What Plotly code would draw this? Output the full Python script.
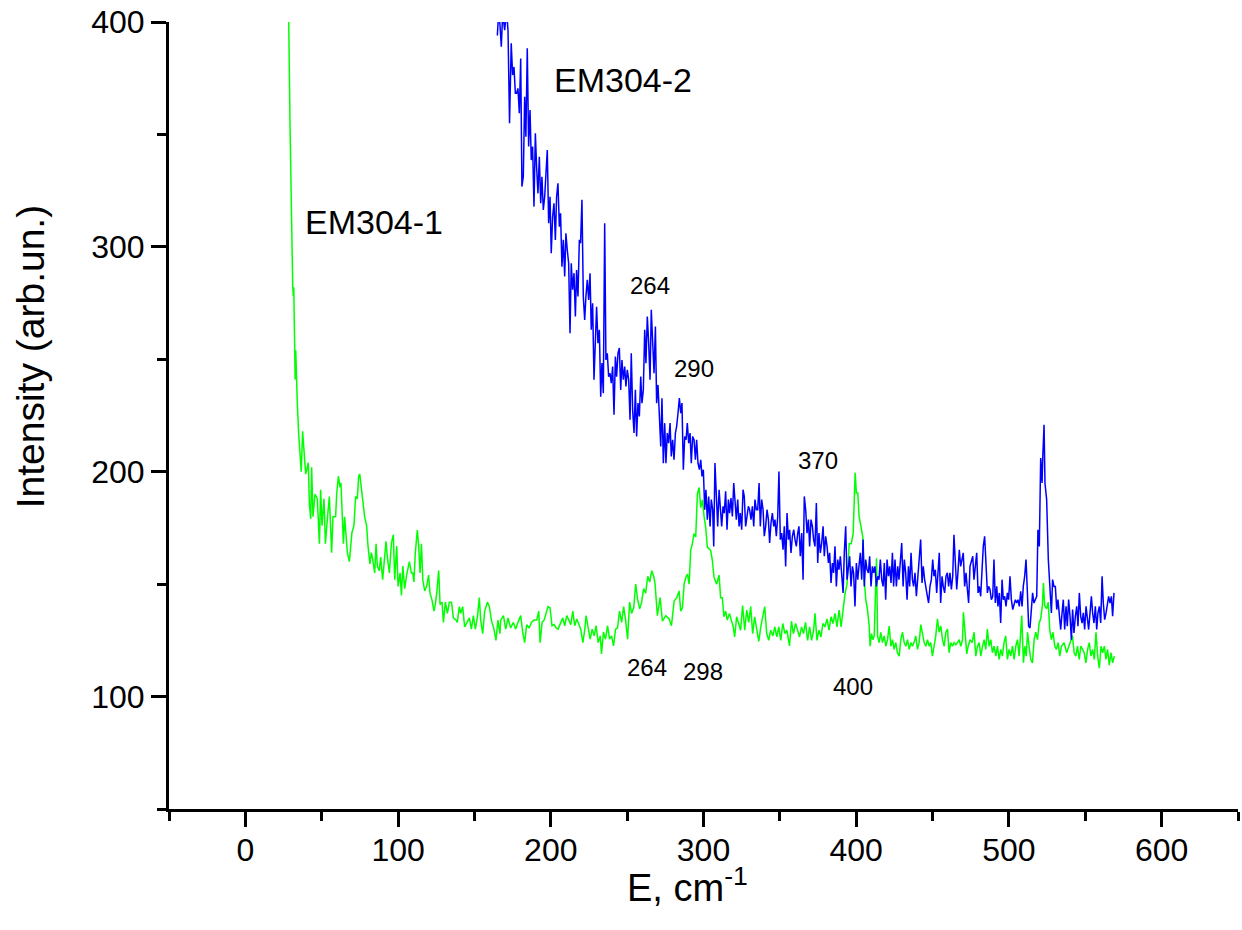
import plotly.graph_objects as go

# ---------------- data ----------------
em1_x = [28.0, 28.4, 29.3, 30.1, 31.0, 31.4, 31.7, 32.3, 32.6, 33.0, 33.4, 34.0, 34.9,
         36.6, 37.5, 39.5, 41.2, 41.9, 42.8, 43.4, 44.3, 45.6, 47.1, 48.5, 49.3, 50.2, 51.5,
         52.4, 53.7, 55.0, 56.5, 57.4, 59.1, 59.8, 60.9, 62.0, 62.6, 64.2, 65.0, 66.8, 68.1,
         69.8, 71.1, 72.2, 73.3, 74.2, 74.9, 76.0, 76.9, 78.1, 79.4, 80.3, 81.6, 82.5, 83.4,
         84.7, 85.6, 86.4, 87.7, 88.6, 89.9, 90.8, 92.1, 93.0, 94.3, 95.6, 96.9, 97.8, 99.1,
         100.0, 101.3, 102.2, 103.1, 104.3, 105.6, 107.4, 108.7, 109.6, 110.4, 111.3, 112.6,
         113.5, 114.4, 115.3, 116.2, 117.4, 118.7, 120.0, 120.9, 122.2, 123.5, 124.4, 125.3,
         126.6, 127.5, 128.8, 129.7, 131.0, 132.3, 133.6, 135.0, 136.2, 138.0, 138.8, 140.1,
         141.0, 142.3, 143.6, 144.9, 146.7, 148.0, 149.3, 150.6, 151.9, 153.2, 154.1, 155.4,
         156.7, 158.5, 159.8, 161.1, 162.8, 164.1, 165.4, 166.7,
         167.2, 169.0, 170.5, 172.0, 173.7, 175.5, 177.0, 178.5, 180.3, 181.6, 182.9, 184.2,
         185.8, 187.3, 189.0, 190.8, 192.1, 193.0, 194.3, 195.6, 196.9, 198.2, 199.5, 200.8,
         202.2, 203.5, 204.8, 206.5, 207.8, 209.1, 210.5, 211.8, 213.1, 214.4, 215.7, 217.0,
         218.3, 219.6, 221.0, 222.3, 223.1, 224.5, 225.8, 227.1, 228.4, 229.7, 231.0, 232.4,
         233.2, 234.5, 235.8, 237.2, 238.5, 239.8, 241.1, 242.4, 243.7, 245.0, 246.4, 247.7,
         249.0, 250.3, 251.6, 252.9, 254.3, 255.6, 256.9, 258.2, 259.5, 260.8, 262.1, 263.5,
         264.8, 266.1, 267.4, 268.3,
         268.7, 269.8, 271.6, 273.1, 275.3, 277.5, 279.0, 280.8, 282.5, 284.0, 285.1, 286.2,
         287.3, 288.4, 289.5, 290.6, 291.6, 292.7, 293.8, 294.9, 296.0, 297.1, 298.2, 299.3,
         300.4, 301.4, 302.5, 304.7, 305.8, 306.9, 308.6, 310.2, 311.2, 312.3, 313.4, 314.5,
         315.6, 317.0, 318.2, 319.5, 320.4, 321.7, 323.0, 324.3, 325.6, 327.0, 328.3, 329.6,
         330.9, 332.2, 333.5, 334.8, 336.2, 337.5, 338.8, 340.1, 341.4, 342.7, 344.0, 345.4,
         346.7, 348.0, 349.3, 350.6, 351.9, 353.3, 354.6, 356.3, 357.6, 358.9, 360.3, 361.6,
         362.9, 364.2, 365.5, 366.8, 368.2, 369.5, 370.8, 372.1, 373.0, 374.3, 375.6, 376.9,
         378.2, 379.5, 380.9, 382.2, 383.5, 384.8, 386.1, 387.4, 388.8, 390.1, 391.4, 392.7,
         394.0, 395.4, 396.7, 398.0, 399.3, 400.1, 401.0, 401.9,
         403.0, 404.3, 405.2, 406.3, 407.4, 408.5, 409.1, 410.0, 410.9, 411.8, 412.6, 413.3,
         414.0, 415.0, 416.1, 417.2, 418.3, 419.4, 420.5, 421.6, 422.7, 423.8, 424.8, 425.9,
         427.0, 428.1, 429.2, 430.3, 431.4, 432.5, 433.6, 434.7, 435.8, 436.8, 437.9, 439.0,
         440.1, 441.2, 442.3, 443.4, 444.5, 445.6, 446.7, 447.8, 448.8, 449.9, 451.0, 452.1,
         453.2, 454.3, 455.4, 456.5, 457.6, 458.7, 459.8, 460.8, 461.9, 463.0, 464.1, 465.2,
         466.3, 467.4, 468.5, 469.6, 470.2, 471.1, 472.4, 473.3, 474.6, 475.9, 477.2, 478.3,
         479.4, 480.5, 481.6, 482.7, 483.8, 484.8, 485.9, 487.0, 488.1, 489.2, 490.3, 491.4,
         492.5, 493.6, 494.7, 495.7, 496.8, 497.9, 499.0, 500.1, 501.2, 502.3, 503.4, 504.5,
         505.6, 506.7, 507.8, 508.4, 509.5, 510.4, 511.3, 512.2, 513.2, 514.3, 515.4, 516.5,
         517.6, 518.7, 519.8,
         520.8, 521.9, 522.6, 523.4, 524.7, 525.8, 526.7, 527.8, 528.9, 530.0, 531.1, 532.2,
         533.3, 534.4, 536.1, 537.8, 539.4, 540.5, 541.6, 542.7, 543.8, 544.9, 546.0, 547.1,
         548.2, 549.3, 550.4, 551.5, 552.6, 553.7, 554.8, 555.9, 557.0, 558.1, 559.2, 560.3,
         561.4, 562.5, 563.5, 564.6, 565.7, 566.8, 567.9, 569.0]
em1_y = [410, 400, 352, 315, 283, 278, 282, 255, 241, 254, 241, 231, 217,
         200, 218, 199, 204, 186, 179, 202, 180, 190, 188, 168, 192, 176, 188,
         168, 179, 189, 164, 180, 180, 190, 198, 193, 195, 168, 180, 164, 160,
         173, 176, 189, 188, 198, 199, 192, 188, 180, 176, 167, 159, 164, 161,
         155, 168, 158, 156, 162, 152, 158, 169, 162, 155, 168, 172, 152, 167,
         149, 155, 145, 158, 148, 154, 160, 155, 155, 151, 164, 174,
         167, 155, 168, 152, 147, 149, 154, 146, 143, 138, 141, 146,
         156, 141, 142, 133, 142, 137, 142, 142, 135, 134, 133, 140,
         137, 140, 131, 133, 135, 130, 136, 130, 135, 144, 134, 128,
         138, 142, 140, 134, 130, 125, 134, 128,
         134, 136, 130, 135, 130.5, 133, 130, 133, 136, 128.7, 124, 132,
         130.5, 133, 134, 134, 138, 124, 133, 134, 137, 140, 139.5, 131.5,
         132, 130.5, 130, 133, 135, 131.5, 136, 134, 132, 138, 131.5, 134.5,
         132, 130, 124, 130, 136, 130, 125.5, 130, 127, 131.5, 124, 127,
         119, 128.7, 125.5, 131.5, 125.5, 127, 122.5, 130, 130.5, 138, 133, 140,
         134, 125.5, 142, 137, 139.5, 150, 143, 139, 142, 148, 146, 153.5,
         151, 156, 153.5, 150,
         147, 136, 144, 133.5, 136, 134.5, 131.5, 142.5, 144, 147, 138, 139.5,
         150, 153, 154.5, 150, 165, 168, 172.5, 171, 190, 193, 184, 187.5,
         180, 175.5, 166.5, 165, 160.5, 153, 150, 154, 144, 144, 135.5, 138,
         134, 137, 134, 131, 126.5, 135.5, 132.5, 129.5, 140.5, 129.5, 138.5, 133,
         140, 128, 135.5, 131, 124.5, 131, 135.5, 140, 128, 125, 129.5, 127,
         131, 126.5, 131, 125, 132.5, 128, 129.5, 122.5, 133.5, 128, 132.5, 129.5,
         126.5, 131, 128, 133, 125, 131, 125, 129.5, 137, 125, 129.5, 126.5,
         132.5, 131, 134.5, 129.5, 135.5, 132.5, 137, 131, 138.5, 131, 140, 146,
         150, 168, 168, 172.5, 199.5, 190.5, 190.5, 180,
         176, 171, 152, 143, 138.7, 131.4, 122.4, 128, 125.3, 127, 146, 161.5,
         127, 124, 128.6, 124, 127, 122.4, 125.3, 131.4, 122.4, 125.3, 121, 124,
         119.5, 118, 125.3, 128.6, 124, 122.4, 125.3, 121, 124, 122.4, 124, 127,
         121, 124, 132, 127, 124, 122.4, 125.3, 122.4, 124, 118, 122.4, 127,
         134.6, 128.6, 131.4, 125.3, 122.4, 128.6, 130, 119.5, 124, 122.4, 124, 123,
         124, 125.3, 122.4, 125.3, 137.5, 128.6, 119, 122.4, 125.3, 124, 128.6, 118,
         122.4, 124, 118, 122.4, 125.3, 121, 130, 122.4, 125.3, 119.5, 122.4, 118,
         122.4, 116.5, 121, 118, 124, 127, 116.5, 121, 118, 122.4, 116.5, 122.4,
         125.3, 118, 128.6, 136, 115, 122.4, 118, 128.6, 122.4, 116.5, 115, 125.3,
         128.6, 125.3, 132.7,
         134.6, 140.5, 150.5, 140.5, 139, 142, 130, 125.3, 128.6, 122.4, 121, 124,
         118, 122.4, 124, 119.5, 122.4, 125.3, 127, 119.5, 118, 122.4, 116.5, 122.4,
         121, 119.5, 115, 121, 124, 118, 121, 116.5, 128.6, 118, 112.6, 122.4,
         119.5, 122.4, 116.5, 121, 114, 119.5, 115, 118]

em2_x = [165.0, 165.9, 166.7, 167.6, 168.5, 169.8, 171.1, 172.0, 173.0, 174.1, 175.0, 175.9,
         176.8, 177.6, 178.5, 179.4, 180.3, 181.1, 182.0, 182.9, 183.7, 184.6, 185.5, 186.4,
         187.2, 188.1, 189.0, 189.9, 190.7, 191.6, 192.5, 193.4, 194.2, 195.1, 196.0, 196.8,
         197.7, 198.6, 199.5, 200.3, 201.2, 202.1, 203.0, 203.8, 204.7, 205.6, 206.4, 207.3,
         208.2, 209.1, 209.9, 210.8, 211.7, 212.6, 213.4, 214.3, 215.2, 216.1, 216.9, 217.8,
         218.7, 219.5, 220.4, 221.3, 222.2, 223.0, 223.9, 224.8, 225.7, 226.5, 227.4, 228.3,
         229.2, 230.0, 230.9, 231.8, 232.7, 233.5, 234.4, 235.3, 236.1, 237.0, 237.9, 238.8,
         239.6, 240.5, 241.4, 242.3, 243.1, 244.0, 244.9, 245.8, 246.6, 247.5, 248.4, 249.2,
         250.1, 251.0, 251.9, 252.7, 253.6, 254.5, 255.4, 256.2, 257.1, 258.0, 258.9, 259.7,
         260.6, 261.5, 262.3, 263.2, 264.1, 265.0, 265.8, 266.7, 267.6, 268.5, 269.3, 270.2,
         271.1, 272.0, 272.8, 273.7, 274.6, 275.4, 276.3, 277.2, 278.1, 278.9, 279.8, 280.7,
         281.6, 282.4, 283.3, 284.2, 285.1, 285.9, 286.8, 287.7, 288.6, 289.4, 290.3, 291.2,
         292.0, 292.9, 293.8, 294.7, 295.5, 296.4, 297.3, 298.2, 299.0, 299.9,
         300.8, 301.6, 302.5, 303.4, 304.3, 305.1, 306.0, 306.7, 307.5, 308.4, 309.3, 310.2,
         311.0, 311.9, 312.8, 313.6, 314.5, 315.4, 316.3, 317.1, 318.0, 318.9, 319.8, 320.6,
         321.5, 322.4, 323.3, 324.1, 325.0, 325.9, 326.7, 327.6, 328.5, 329.4, 330.2, 331.1,
         332.0, 332.9, 333.7, 334.6, 335.5, 336.4, 337.2, 338.1, 339.0, 339.8, 340.7, 341.6,
         342.5, 343.3, 344.2, 345.1, 346.0, 346.8, 347.7, 348.6, 349.4, 350.3, 351.2, 352.1,
         352.9, 353.8, 354.7, 355.6, 356.4, 357.3, 358.2, 359.1, 359.9, 360.8, 361.7, 362.5,
         363.4, 364.3, 365.2, 366.0, 366.9, 367.8, 368.7, 369.5, 370.4, 371.3, 372.1, 373.0,
         373.9, 374.8, 375.6, 376.5, 377.4, 378.3, 379.1, 380.0, 380.9, 381.8, 382.6, 383.5,
         384.4, 385.2, 386.1, 387.0, 387.9, 388.7, 389.6, 390.5, 391.4, 392.2, 393.1, 394.0,
         394.9, 395.7, 396.6, 397.5, 398.3, 399.2, 400.1, 401.0, 401.8, 402.7, 403.6, 404.5,
         405.3, 406.2, 407.1, 408.0, 408.8, 409.7, 410.6, 411.4, 412.3, 413.2, 414.1, 414.9,
         415.8, 416.7, 417.6, 418.4, 419.3, 420.2, 421.1, 421.9, 422.8, 423.7, 424.5, 425.4,
         426.3, 427.2, 428.0, 428.9, 429.8, 430.7, 431.5, 432.4, 433.3, 434.2, 435.0, 435.9,
         436.8, 437.6, 438.5, 439.4, 440.3, 441.1,
         442.2, 443.1, 443.9, 444.8, 445.7, 446.6, 447.4, 448.3, 449.2, 450.1, 450.9, 451.8,
         452.7, 453.6, 454.4, 455.3, 456.2, 457.0, 457.9, 458.8, 459.7, 460.5, 461.4, 462.3,
         463.2, 464.0, 464.9, 465.8, 466.6, 467.5, 468.4, 469.3, 470.1, 471.0, 471.9, 472.8,
         473.6, 474.5, 475.4, 476.3, 477.1, 478.0, 478.9, 479.8, 480.6, 481.5, 482.4, 483.2,
         484.1, 485.0, 485.9, 486.7, 487.6, 488.5, 489.4, 490.2, 491.1, 492.0, 492.8, 493.7,
         494.6, 495.5, 496.3, 497.2, 498.1, 499.0, 499.8, 500.7, 501.6, 502.5, 503.3, 504.2,
         505.1, 505.9, 506.8, 507.7, 508.6, 509.4, 510.3, 511.2, 512.1, 512.9, 513.8, 514.7,
         515.5, 516.4, 517.3, 518.2, 519.0, 519.9, 520.8, 521.7, 522.1, 523.0, 523.6, 524.7,
         525.8, 526.9, 527.8, 528.6, 529.5, 530.4, 531.3, 532.1, 533.0, 533.9, 534.8, 535.6,
         536.5, 537.4, 538.2, 539.1, 540.0, 540.9, 541.7, 542.6, 543.5, 544.4, 545.2, 546.1,
         547.0, 547.9, 548.7, 549.6, 550.5, 551.3, 552.2, 553.1, 554.0, 554.8, 555.7, 556.6,
         557.5, 558.3, 559.2, 560.1, 561.0, 561.8, 562.7, 563.6, 564.4, 565.3, 566.2, 567.1,
         567.9, 568.8]
em2_y = [394, 405, 399, 389, 404, 396.4, 405, 396, 355, 390.5, 376.4, 380,
         368.3, 368.3, 370.5, 359.4, 383.8, 326.8, 331.2, 366.8, 349, 388.3, 344.6, 360.9,
         338.6, 344.6, 317.9, 350.5, 335.7, 323.8, 340.1, 319.4, 331.2, 316.4, 322.3, 334.2,
         343.1, 310.5, 322.3, 297.2, 313.4, 319.4, 303.1, 322.3, 328.3, 309, 314.9, 291.2,
         303.1, 286.8, 306, 298.6, 292.7, 261.6, 292.7, 280.9, 288.3, 269, 289.7, 277.9,
         303.1, 301.6, 320.9, 277.9, 267.5, 277.9, 285.3, 276.4, 288.3, 263.1, 274.9, 240.9,
         264.6, 273.4, 257.2, 263.1, 233.4, 248.3, 234.9, 310.5, 249.7, 252.7, 242.3, 243.8,
         239.4, 246.8, 225.3, 251.2, 242.3, 252.7, 255, 236.4, 249.7, 240.9, 246.8, 237.9,
         245.3, 240.9, 223.1, 252.7, 227.5, 217.2, 236.4, 215.7, 230.5, 224.6, 242.3, 230.5,
         236.4, 263.1, 248.3, 269, 257.2, 240.9, 272, 257.2, 243.8, 264.6, 230.5, 238.6,
         227.5, 211.2, 232.7, 203.8, 221.6, 203.8, 217.2, 212.7, 221.6, 206.8, 214.2, 205.3,
         217.2, 220.1, 226, 232.7, 226, 230.5, 200.9, 215.7, 214.2, 221.6, 212.7, 217.2,
         203.8, 215.7, 214.2, 205.3, 214.2, 203.8, 200.9, 205.3, 197.9, 200.9,
         183.1, 192, 178.7, 189, 175.7, 187.6, 183.1, 166.8, 203.9, 186.1, 175.7, 192,
         183.1, 175.7, 184.6, 181.6, 191.3, 174.2, 187.6, 181.6, 188.3, 180.1, 195, 186.1,
         178.7, 187.6, 175.7, 181.6, 174.2, 192, 189, 175.7, 181.6, 184.6, 183.1, 178.7,
         184.6, 175.7, 187.6, 183.1, 183.1, 195, 175.7, 187.6, 183.1, 171.3, 175.7, 183.1,
         178.7, 168.3, 177.2, 181.6, 175.7, 178.7, 171.3, 180.1, 200.1, 169.8, 172.7, 165.3,
         175.7, 157.9, 181.6, 169.8, 174.2, 163.9, 171.3, 174.2, 169.8, 166.8, 172.7, 175.7,
         162.4, 172.7, 152, 189, 183.1, 172.7, 178.7, 166.8, 178.7, 175.7, 169.8, 166.8,
         186.1, 159.4, 172.7, 163.9, 168.3, 175.7, 162.4, 171.3, 166.8, 159.4, 163.9, 150.5,
         159.4, 155, 166.8, 149, 160.9, 156.4, 162.4, 155, 146.1, 163.9, 175.7, 152,
         156.4, 162.4, 149, 157.9, 155, 140.1, 159.4, 152, 157.9, 163.9, 152, 169.8,
         149, 160.9, 156.4, 155, 162.4, 149, 157.9, 155, 157.9, 149, 153.5, 152,
         160.9, 152, 149, 159.4, 143.1, 160.9, 153.5, 157.9, 150.5, 163.9, 149, 160.9,
         149, 157.9, 152, 162.4, 168.3, 149, 160.9, 155, 143.1, 157.9, 149, 163.9,
         152, 149, 155, 144.6, 152, 160.9,
         169.8, 150.5, 157.9, 152, 149, 144.6, 141.6, 149, 152, 160.9, 153.5, 156.4,
         146.1, 155, 163.9, 141.6, 153.5, 149, 146.1, 153.5, 155, 149, 155, 147.6,
         153.5, 172, 157.9, 147.6, 155, 165.3, 157.9, 160.9, 163.9, 149, 155, 147.6,
         141.6, 157.9, 160.9, 162.4, 152, 159.4, 163.9, 146.1, 149, 144.6, 157.9, 166.8,
         171.3, 160.9, 146.1, 149, 147.6, 143.1, 144.6, 160.9, 141.6, 149, 140.1, 146.1,
         132.7, 152, 143.1, 144.6, 140.1, 146.1, 143.1, 153.5, 143.1, 138.7, 141.6, 143.1,
         141.6, 143.1, 140.1, 146.8, 140.1, 149, 153.5, 160.9, 146.1, 131.3, 130.5, 137.2,
         146.1, 141.6, 143.1, 144.6, 174.2, 166.8, 206.1, 195, 205.3, 220.9, 195, 187.6,
         160.9, 146.1, 137.2, 152, 149, 149, 138.7, 143.1, 135.7, 129.8, 137.2, 143.1,
         129.8, 140.1, 131.3, 143.1, 135.7, 125.3, 138.7, 128.3, 135.7, 140.1, 131.3, 146.1,
         135.7, 132.7, 137.2, 129.8, 140.1, 135.7, 129.8, 137.2, 144.6, 137.2, 132.7, 140.1,
         129.8, 137.2, 140.1, 132.7, 153.5, 141.6, 134.2, 137.2, 140.1, 144.6, 141.6, 144.6,
         135.7, 146.1]

# peak labels: (x, y, text, font size)
labels = [
    (38.0, 311, "EM304-1", 34),
    (200.5, 374, "EM304-2", 34),
    (264.8, 283, "264", 24),
    (293.6, 246, "290", 24),
    (374.8, 205, "370", 24),
    (262.9, 113, "264", 24),
    (299.5, 111, "298", 24),
    (397.8, 104.4, "400", 24),
]

x_title = "E, cm<sup>-1</sup>"
y_title = "Intensity (arb.un.)"

FONT = "Liberation Sans, Arial, sans-serif"

fig = go.Figure()
fig.add_trace(go.Scatter(x=em1_x, y=em1_y, mode="lines", name="EM304-1",
                         line=dict(color="#00FF00", width=1.5)))
fig.add_trace(go.Scatter(x=em2_x, y=em2_y, mode="lines", name="EM304-2",
                         line=dict(color="#0000FF", width=1.5)))

for x, y, t, s in labels:
    big = s > 25
    fig.add_annotation(x=x, y=y, text=t, showarrow=False,
                       xanchor="left" if big else "center", yanchor="middle",
                       font=dict(family=FONT, size=s, color="black"))

# axis titles (placed as paper annotations to match the reference position)
fig.add_annotation(xref="paper", yref="paper", x=0.485, y=-0.097, text=x_title,
                   showarrow=False, xanchor="center", yanchor="middle",
                   font=dict(family=FONT, size=38, color="black"))
fig.add_annotation(xref="paper", yref="paper", x=-0.13, y=0.574, text=y_title,
                   showarrow=False, xanchor="center", yanchor="middle", textangle=-90,
                   font=dict(family=FONT, size=39, color="black"))

axis_common = dict(
    showgrid=False, zeroline=False, showline=True, linecolor="black", linewidth=3,
    ticks="outside", ticklen=15, tickwidth=2.5, tickcolor="black",
    tickfont=dict(family=FONT, size=32, color="black"),
    minor=dict(ticks="outside", ticklen=9, tickwidth=2.5, tickcolor="black", dtick=50),
    mirror=False,
)

fig.update_xaxes(range=[-50, 650], tick0=0, dtick=100, ticklabelstandoff=-4, **axis_common)
fig.update_yaxes(range=[50, 400], tick0=0, dtick=100, **axis_common)

fig.update_layout(
    width=1242, height=930,
    margin=dict(l=169, r=4, t=22, b=121, autoexpand=False),
    paper_bgcolor="white", plot_bgcolor="white",
    showlegend=False,
    font=dict(family=FONT, color="black"),
)

fig.write_html("out.html", include_plotlyjs=True, full_html=True,
               config={"displayModeBar": False})
